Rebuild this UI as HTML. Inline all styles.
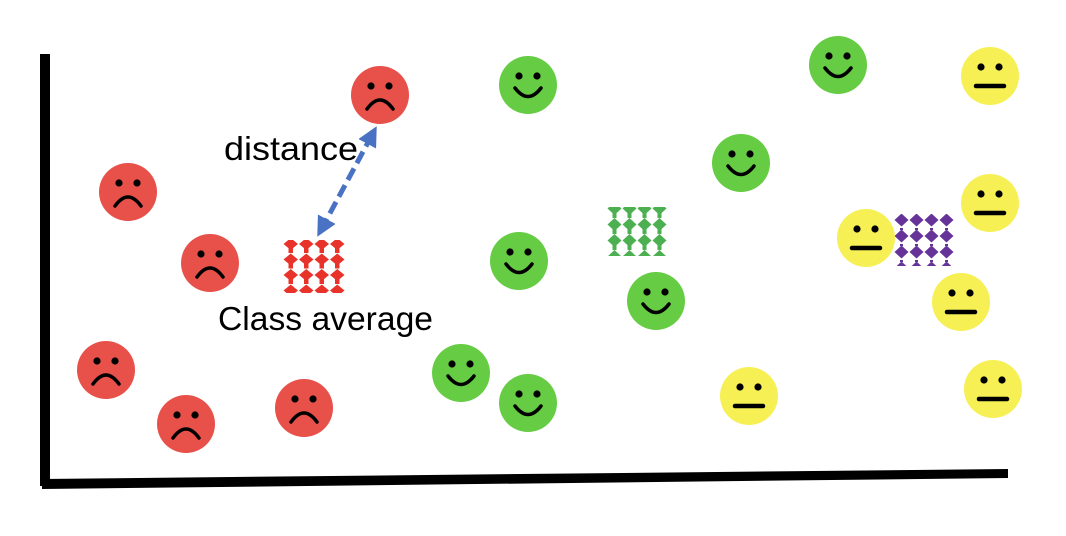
<!DOCTYPE html>
<html><head><meta charset="utf-8"><style>
html,body{margin:0;padding:0;background:#fff;width:1066px;height:536px;overflow:hidden}
svg{display:block}
text{font-family:"Liberation Sans",sans-serif;}
</style></head><body>
<svg id="chart" width="1066" height="536" viewBox="0 0 1066 536">
<defs>
<pattern id="pRed" width="15.5" height="15.5" patternUnits="userSpaceOnUse" x="283" y="238">
<path d="M7.75 0 L15 6 L7.75 12 L0.5 6 Z" fill="#e8332a"/><rect x="5.5" y="10" width="4.5" height="5" fill="#e8332a"/></pattern>
<pattern id="pGreen" width="15" height="16" patternUnits="userSpaceOnUse" x="607" y="202">
<path d="M7.5 0 L14.5 6.5 L7.5 13 L0.5 6.5 Z" fill="#4caf50"/><rect x="5.5" y="11" width="4" height="5" fill="#4caf50"/></pattern>
<pattern id="pPurple" width="15" height="16" patternUnits="userSpaceOnUse" x="894" y="212">
<path d="M7.5 1.5 L14.5 8 L7.5 14.5 L0.5 8 Z" fill="#663399"/><rect x="6" y="0" width="3" height="2" fill="#663399"/></pattern>
<marker id="ah" markerWidth="4" markerHeight="4" refX="2" refY="2" orient="auto-start-reverse" markerUnits="strokeWidth">
<path d="M0 0 L4 2 L0 4 Z" fill="#4a72c4"/></marker>
</defs>
<g id="axes">
<rect x="40" y="54" width="10" height="432" fill="#000"/>
<polygon points="42,479 1008,469 1008,478 42,489" fill="#000"/>
</g>
<g id="averages">
<rect x="283" y="240" width="62" height="53" fill="url(#pRed)"/>
<rect x="607" y="207" width="60" height="49" fill="url(#pGreen)"/>
<rect x="894" y="214" width="60" height="52" fill="url(#pPurple)"/>
</g>
<line x1="372" y1="135" x2="322" y2="228" stroke="#4a72c4" stroke-width="5" stroke-dasharray="13,6" marker-start="url(#ah)" marker-end="url(#ah)"/>
<text x="224" y="160" font-size="33" textLength="134" lengthAdjust="spacingAndGlyphs" fill="#000">distance</text>
<text x="218" y="330" font-size="33" textLength="215" lengthAdjust="spacingAndGlyphs" fill="#000">Class average</text>
<g id="faces"></g>
</svg>
<script>
const sadX=[380,128,210,106,186,304];
const sadY=[95,192,263,370,424,408];
const happyX=[528,838,741,519,656,461,528];
const happyY=[85,65,163,261,301,373,403];
const neutralX=[990,990,866,961,749,993];
const neutralY=[76,203,238,302,396,389];
const NS="http://www.w3.org/2000/svg";
const g=document.getElementById('faces');
function mk(t,a){const e=document.createElementNS(NS,t);for(const k in a)e.setAttribute(k,a[k]);return e;}
function face(cx,cy,color,kind){
  const f=mk('g',{});
  
  
  f.appendChild(mk('circle',{cx:cx,cy:cy,r:29,fill:color}));
  f.appendChild(mk('circle',{cx:cx-9,cy:cy-9,r:3.6,fill:'#000'}));
  f.appendChild(mk('circle',{cx:cx+9,cy:cy-9,r:3.6,fill:'#000'}));
  let d;
  if(kind==='sad') d=mk('path',{d:`M${cx-13} ${cy+14} Q${cx} ${cy-4} ${cx+13} ${cy+14}`,stroke:'#000','stroke-width':3.5,fill:'none','stroke-linecap':'round'});
  else if(kind==='happy') d=mk('path',{d:`M${cx-13} ${cy+3} Q${cx} ${cy+20} ${cx+13} ${cy+3}`,stroke:'#000','stroke-width':3.5,fill:'none','stroke-linecap':'round'});
  else d=mk('line',{x1:cx-14,y1:cy+10,x2:cx+14,y2:cy+10,stroke:'#000','stroke-width':4.5,'stroke-linecap':'round'});
  f.appendChild(d);
  g.appendChild(f);
}
sadX.forEach((x,i)=>face(x,sadY[i],'#e8504a','sad'));
happyX.forEach((x,i)=>face(x,happyY[i],'#66cc44','happy'));
neutralX.forEach((x,i)=>face(x,neutralY[i],'#f6f055','neutral'));
</script>
</body></html>
